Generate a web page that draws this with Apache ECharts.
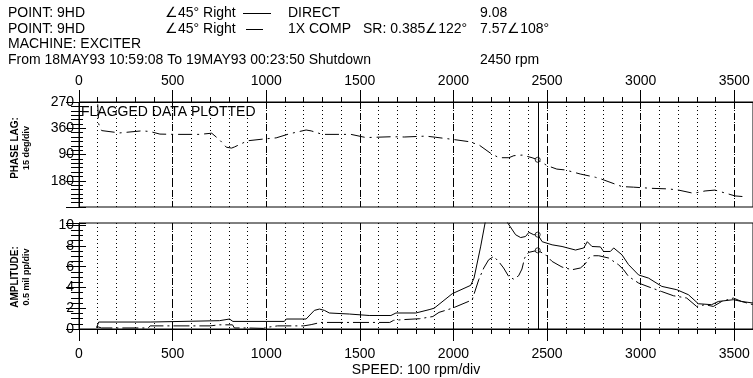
<!DOCTYPE html>
<html>
<head>
<meta charset="utf-8">
<script src="https://cdn.jsdelivr.net/npm/echarts@6/dist/echarts.min.js"></script>
<style>
  html, body { margin: 0; padding: 0; background: #fff; }
  #chart { width: 753px; height: 378px; }
</style>
</head>
<body>
<div id="chart"></div>
<script>
  // speed (rpm) / value pairs
  const phase1x = [
    [100, 278], [105, 345], [121, 8], [218, 16], [334, 9], [378, 11], [432, 20], [511, 21], [645, 21],
    [709, 17], [751, 40], [787, 65], [815, 68], [831, 64], [900, 43], [1000, 36], [1053, 33], [1124, 19],
    [1213, 6], [1240, 9], [1300, 21], [1453, 21], [1533, 32], [1674, 29], [1737, 30], [1852, 27], [1906, 31],
    [1994, 38], [2083, 46], [2136, 57], [2199, 86], [2243, 101], [2296, 101], [2323, 94], [2367, 92],
    [2420, 101], [2450, 108], [2500, 128], [2552, 140], [2598, 143], [2678, 157], [2758, 168], [2793, 175],
    [2900, 200], [2962, 202], [3060, 206], [3149, 208], [3202, 212], [3282, 223], [3344, 215], [3397, 212],
    [3504, 232], [3560, 235]
  ]
  const ampDirect = [
    [94, 0.1], [105, 0.67], [380, 0.67], [385, 0.8], [750, 0.8], [760, 0.96], [804, 0.96], [822, 0.73],
    [1097, 0.73], [1107, 0.96], [1213, 0.96], [1257, 1.79], [1284, 1.92], [1311, 1.79], [1337, 1.54],
    [1444, 1.44], [1550, 1.3], [1666, 1.3], [1693, 1.54], [1799, 1.54], [1870, 1.86], [1897, 2.0],
    [1994, 3.4], [2092, 4.2], [2110, 4.9], [2145, 7.9], [2172, 10.5], [2200, 11.3], [2260, 11.0],
    [2290, 10.2], [2332, 9.07], [2359, 8.8], [2385, 8.9], [2403, 9.3], [2429, 9.07], [2450, 9.08],
    [2474, 8.4], [2527, 8.1], [2580, 7.94], [2652, 7.6], [2696, 7.8], [2715, 8.4], [2740, 7.94],
    [2785, 7.9], [2802, 7.46], [2838, 7.46], [2856, 7.8], [2900, 7.14], [2935, 6.2], [2989, 5.2],
    [3042, 4.9], [3113, 4.1], [3193, 3.78], [3255, 3.3], [3308, 2.43], [3379, 2.34], [3415, 2.65],
    [3495, 2.82], [3539, 2.65], [3600, 2.5]
  ]
  const amp1x = [
    [94, 0.25], [120, 0.1], [370, 0.1], [380, 0.3], [700, 0.3], [750, 0.4], [820, 0.4], [830, 0.1],
    [900, 0.1], [985, 0.06], [1000, 0.15], [1060, 0.3], [1200, 0.3], [1240, 0.42], [1290, 0.63],
    [1660, 0.63], [1680, 0.83], [1730, 0.9], [1820, 0.99], [1890, 1.2], [1923, 1.6], [1994, 2.0],
    [2100, 2.8], [2135, 4.74], [2162, 5.87], [2188, 6.66], [2215, 6.98], [2241, 6.5], [2268, 5.87],
    [2295, 5.06], [2321, 4.8], [2348, 5.12], [2366, 5.77], [2380, 6.83], [2401, 7.37], [2450, 7.57],
    [2492, 7.14], [2527, 6.5], [2580, 5.96], [2633, 5.7], [2678, 5.87], [2705, 6.28], [2722, 6.83],
    [2749, 7.05], [2776, 7.05], [2829, 6.83], [2882, 6.18], [2909, 5.7], [2935, 5.06], [2989, 4.42],
    [3060, 3.94], [3113, 3.6], [3175, 3.2], [3246, 2.98], [3299, 2.17], [3344, 2.34], [3388, 2.17],
    [3433, 2.65], [3495, 2.98], [3539, 2.65], [3600, 2.34]
  ]

  // cursor readout
  const cursorSpeed = 2450
  const cursorDirect = 9.08
  const cursor1x = 7.57
  const cursorPhase = 108
  const srAmp = 0.385
  const srPhase = 122

  const font = 'Liberation Sans, Arial, sans-serif'
  const black = '#000'

  // phase axis runs 270 -> 360/0 -> 90 -> 180 -> 270 going down
  const unwrap = d => (d < 270 ? d + 360 : d)
  const phaseLabel = v => String(v > 360 ? v - 360 : v)

  const chart = echarts.init(document.getElementById('chart'))

  const txt = (x, y, text, extra) => ({
    type: 'text', x: x, y: y, silent: true,
    style: Object.assign({ text: text, font: '14px ' + font, fill: black, verticalAlign: 'middle' }, extra || {})
  })
  const vtxt = (x, y, text, size) => ({
    type: 'text', x: x, y: y, rotation: Math.PI / 2, silent: true,
    style: { text: text, font: 'bold ' + size + 'px ' + font, fill: black, align: 'center', verticalAlign: 'middle' }
  })

  const xMinor = (gridIndex, pos) => ({
    type: 'value', gridIndex: gridIndex, position: pos, min: 0, max: 3600, interval: 100,
    axisLine: { show: false },
    axisTick: { show: true, length: 5, lineStyle: { color: black } },
    axisLabel: { show: false },
    splitLine: { show: true, lineStyle: { color: black, width: 1, type: [1, 3] } }
  })
  const xMajor = (gridIndex, pos, margin) => ({
    type: 'value', gridIndex: gridIndex, position: pos, min: 0, max: 3600, interval: 500,
    axisLine: { show: true, lineStyle: { color: black } },
    axisTick: { show: true, length: 12, lineStyle: { color: black } },
    axisLabel: {
      show: true, margin: margin, color: black, fontSize: 14, fontFamily: font, showMaxLabel: false,
      formatter: v => String(v)
    },
    splitLine: { show: true, lineStyle: { color: black, width: 1, type: [7, 4] } }
  })

  chart.setOption({
    animation: false,
    backgroundColor: '#fff',
    grid: [
      { left: 79, top: 102, width: 676, height: 105, show: true, borderColor: black, borderWidth: 1 },
      { left: 79, top: 223, width: 676, height: 106, show: true, borderColor: black, borderWidth: 1 }
    ],
    xAxis: [
      xMinor(0, 'top'),
      xMajor(0, 'top', 14),
      xMinor(1, 'bottom'),
      Object.assign(xMajor(1, 'bottom', 18), {
        name: 'SPEED: 100 rpm/div', nameLocation: 'middle', nameGap: 34,
        nameTextStyle: { color: black, fontSize: 14, fontFamily: font }
      })
    ],
    yAxis: [
      {
        type: 'value', gridIndex: 0, position: 'left', min: 270, max: 630, interval: 90, inverse: true,
        axisLine: { show: true, lineStyle: { color: black } },
        axisTick: { show: true, inside: true, length: 7, lineStyle: { color: black } },
        minorTick: { show: true, splitNumber: 6, length: 4, lineStyle: { color: black } },
        axisLabel: { margin: 5, color: black, fontSize: 14, fontFamily: font, showMaxLabel: false, formatter: phaseLabel },
        splitLine: { show: false }
      },
      {
        type: 'value', gridIndex: 0, position: 'right', min: 270, max: 630, interval: 90, inverse: true,
        axisLine: { show: false },
        axisTick: { show: true, inside: true, length: 13, lineStyle: { color: black } },
        minorTick: { show: true, splitNumber: 6, length: 8, lineStyle: { color: black } },
        axisLabel: { show: false },
        splitLine: { show: false }
      },
      {
        type: 'value', gridIndex: 1, position: 'left', min: 0, max: 10.2, interval: 2,
        axisLine: { show: true, lineStyle: { color: black } },
        axisTick: { show: true, inside: true, length: 7, lineStyle: { color: black } },
        minorTick: { show: true, splitNumber: 4, length: 4, lineStyle: { color: black } },
        axisLabel: { margin: 5, color: black, fontSize: 14, fontFamily: font, showMaxLabel: false },
        splitLine: { show: false }
      },
      {
        type: 'value', gridIndex: 1, position: 'right', min: 0, max: 10.2, interval: 2,
        axisLine: { show: false },
        axisTick: { show: true, inside: true, length: 13, lineStyle: { color: black } },
        minorTick: { show: true, splitNumber: 4, length: 8, lineStyle: { color: black } },
        axisLabel: { show: false },
        splitLine: { show: false }
      }
    ],
    series: [
      {
        name: '1X COMP phase', type: 'line', xAxisIndex: 1, yAxisIndex: 0, symbol: 'none',
        lineStyle: { color: black, width: 1, type: [14, 5, 2, 5] },
        data: phase1x.map(p => [p[0], unwrap(p[1])])
      },
      {
        name: 'DIRECT', type: 'line', xAxisIndex: 3, yAxisIndex: 2, symbol: 'none',
        lineStyle: { color: black, width: 1 },
        data: ampDirect
      },
      {
        name: '1X COMP', type: 'line', xAxisIndex: 3, yAxisIndex: 2, symbol: 'none',
        lineStyle: { color: black, width: 1, type: [16, 4, 2, 4] },
        data: amp1x
      },
      {
        type: 'scatter', xAxisIndex: 1, yAxisIndex: 0, symbol: 'circle', symbolSize: 5, z: 5,
        itemStyle: { color: '#fff', borderColor: black, borderWidth: 1 },
        data: [[cursorSpeed, unwrap(cursorPhase)]]
      },
      {
        type: 'scatter', xAxisIndex: 3, yAxisIndex: 2, symbol: 'circle', symbolSize: 5, z: 5,
        itemStyle: { color: '#fff', borderColor: black, borderWidth: 1 },
        data: [[cursorSpeed, cursorDirect], [cursorSpeed, cursor1x]]
      }
    ]
  })

  // cursor line through both panels
  const pTop = chart.convertToPixel({ xAxisIndex: 1, yAxisIndex: 0 }, [cursorSpeed, 270])
  const pBot = chart.convertToPixel({ xAxisIndex: 3, yAxisIndex: 2 }, [cursorSpeed, 0])
  const cx = Math.round(pTop[0]) + 0.5

  chart.setOption({
    graphic: [
      txt(8, 13, 'POINT: 9HD'),
      txt(8, 29, 'POINT: 9HD'),
      txt(8, 44, 'MACHINE: EXCITER'),
      txt(8, 60, 'From 18MAY93 10:59:08 To 19MAY93 00:23:50 Shutdown'),
      txt(165, 13, '\u222045\u00b0 Right'),
      txt(165, 29, '\u222045\u00b0 Right'),
      { type: 'line', silent: true, shape: { x1: 243, y1: 13.5, x2: 271, y2: 13.5 }, style: { stroke: black, lineWidth: 1 } },
      { type: 'line', silent: true, shape: { x1: 246, y1: 29.5, x2: 263, y2: 29.5 }, style: { stroke: black, lineWidth: 1 } },
      txt(288, 13, 'DIRECT'),
      txt(288, 29, '1X COMP'),
      txt(363, 29, 'SR: ' + srAmp + '\u2220' + srPhase + '\u00b0'),
      txt(480, 13, cursorDirect.toFixed(2)),
      txt(480, 29, cursor1x.toFixed(2) + '\u2220' + cursorPhase + '\u00b0'),
      txt(480, 60, cursorSpeed + ' rpm'),
      txt(81, 112, 'FLAGGED DATA PLOTTED'),
      vtxt(15, 148, 'PHASE LAG:', 10),
      vtxt(27, 148, '15 deg/div', 9),
      vtxt(15, 277, 'AMPLITUDE:', 10),
      vtxt(27, 277, '0.5 mil pp/div', 9),
      { type: 'line', silent: true, z: 10, shape: { x1: cx, y1: pTop[1], x2: cx, y2: pBot[1] }, style: { stroke: black, lineWidth: 1 } }
    ]
  })
</script>
</body>
</html>
